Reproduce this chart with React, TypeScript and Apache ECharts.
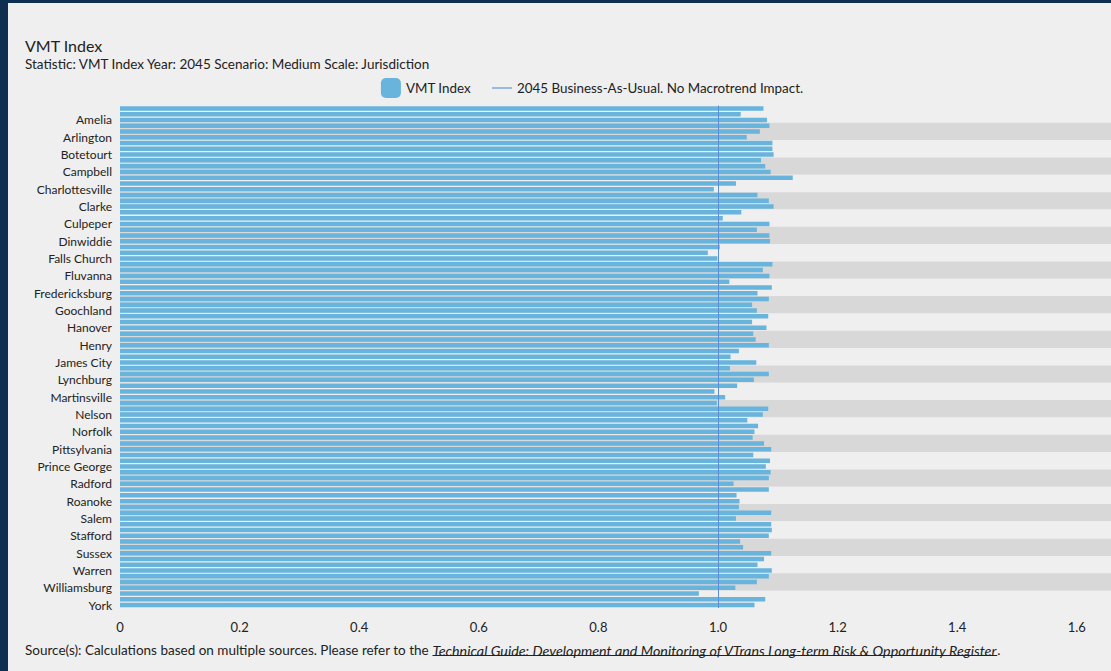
import React, { useEffect, useRef } from "react";
import * as echarts from "echarts";

const categories: string[] = [
  "Albemarle", "Alexandria", "Amelia", "Amherst", "Appomattox", "Arlington", "Augusta", "Bedford", "Botetourt", "Bristol",
  "Buckingham", "Campbell", "Caroline", "Charles City", "Charlottesville", "Chesapeake", "Chesterfield", "Clarke", "Colonial Heights", "Covington",
  "Culpeper", "Cumberland", "Danville", "Dinwiddie", "Fairfax", "Fairfax City", "Falls Church", "Fauquier", "Floyd", "Fluvanna",
  "Franklin", "Frederick", "Fredericksburg", "Giles", "Gloucester", "Goochland", "Greene", "Hampton", "Hanover", "Harrisonburg",
  "Henrico", "Henry", "Hopewell", "Isle of Wight", "James City", "Loudoun", "Louisa", "Lynchburg", "Manassas", "Manassas Park",
  "Martinsville", "Mecklenburg", "Montgomery", "Nelson", "New Kent", "Newport News", "Norfolk", "Orange", "Petersburg", "Pittsylvania",
  "Portsmouth", "Powhatan", "Prince George", "Prince William", "Pulaski", "Radford", "Rappahannock", "Richmond", "Roanoke", "Rockbridge",
  "Rockingham", "Salem", "Shenandoah", "Spotsylvania", "Stafford", "Staunton", "Suffolk", "Sussex", "Tazewell", "Virginia Beach",
  "Warren", "Waynesboro", "Westmoreland", "Williamsburg", "Winchester", "Wythe", "York",
];

const vmtIndex: number[] = [
  1.076, 1.038, 1.082, 1.086, 1.070, 1.048, 1.091, 1.091, 1.093, 1.072,
  1.079, 1.088, 1.125, 1.030, 0.993, 1.066, 1.085, 1.093, 1.039, 1.008,
  1.086, 1.065, 1.086, 1.087, 1.003, 0.983, 0.999, 1.091, 1.075, 1.086,
  1.019, 1.090, 1.066, 1.085, 1.057, 1.065, 1.084, 1.057, 1.081, 1.059,
  1.063, 1.085, 1.035, 1.021, 1.064, 1.020, 1.085, 1.060, 1.032, 0.994,
  1.012, 0.998, 1.084, 1.075, 1.049, 1.067, 1.061, 1.058, 1.077, 1.089,
  1.059, 1.087, 1.080, 1.088, 1.085, 1.026, 1.085, 1.031, 1.036, 1.035,
  1.089, 1.030, 1.089, 1.090, 1.085, 1.037, 1.042, 1.089, 1.077, 1.066,
  1.090, 1.085, 1.065, 1.029, 0.968, 1.079, 1.061,
];

const baselineValue = 1.0;
const seriesNames = ["VMT Index", "2045 Business-As-Usual. No Macrotrend Impact."];
const titleText = "VMT Index";
const subtitleText = "Statistic: VMT Index Year: 2045 Scenario: Medium Scale: Jurisdiction";
const sourcePlain = "Source(s): Calculations based on multiple sources. Please refer to the ";
const sourceLink = "Technical Guide: Development and Monitoring of VTrans Long-term Risk & Opportunity Register";
const sourceEnd = ".";

const FONT_FAMILY = 'Lato, "Noto Sans", sans-serif';
const BG = "#efefef";
const BAND = "#d8d8d8";
const BAR = "#69b4dc";
const LINE = "#5a8fd8";
const LEGEND_LINE = "#9ab9e4";
const TEXT = "#222222";

function measure(text: string, font: string): number {
  const c = document.createElement("canvas");
  const ctx = c.getContext("2d");
  if (!ctx) return text.length * 6;
  ctx.font = font;
  return ctx.measureText(text).width;
}

export default function App() {
  const ref = useRef<HTMLDivElement>(null);

  useEffect(() => {
    if (!ref.current) return;
    const chart = echarts.init(ref.current, undefined, { renderer: "svg" });
    const fontPlain = `13.5px ${FONT_FAMILY}`;
    const fontItalic = `italic 14.3px ${FONT_FAMILY}`;
    const w1 = measure(sourcePlain, fontPlain);
    const w2 = measure(sourceLink, fontItalic);
    const sx = 17;
    const sy = 647;

    chart.setOption({
      animation: false,
      backgroundColor: BG,
      textStyle: { fontFamily: FONT_FAMILY },
      legend: {
        top: 70,
        left: "center",
        itemWidth: 20,
        itemHeight: 20,
        itemGap: 20,
        textStyle: { fontSize: 13.4, color: TEXT, fontFamily: FONT_FAMILY },
        data: [
          { name: seriesNames[0], icon: "roundRect" },
          { name: seriesNames[1], itemStyle: { opacity: 0, color: "rgba(0,0,0,0)", borderWidth: 0 } },
        ],
      },
      grid: { left: 112, top: 102.5, bottom: 63, right: 39.4, containLabel: false },
      xAxis: {
        type: "value",
        min: 0,
        max: 1.7,
        interval: 0.2,
        axisLine: { show: false },
        axisTick: { show: false },
        splitLine: { show: false },
        axisLabel: {
          fontSize: 13,
          color: TEXT,
          margin: 12,
          showMaxLabel: false,
          fontFamily: FONT_FAMILY,
          formatter: (v: number) => (v === 0 ? "0" : v.toFixed(1)),
        },
      },
      yAxis: {
        type: "category",
        inverse: true,
        data: categories,
        axisLine: { show: false },
        axisTick: { show: false },
        axisLabel: {
          fontSize: 12,
          color: TEXT,
          margin: 8,
          fontFamily: FONT_FAMILY,
          interval: (index: number) => index % 3 === 2,
        },
        splitLine: { show: false },
        splitArea: {
          show: true,
          interval: (index: number) => index % 3 === 0,
          areaStyle: { color: [BG, BAND] },
        },
      },
      series: [
        {
          name: seriesNames[0],
          type: "bar",
          data: vmtIndex,
          barCategoryGap: "22%",
          itemStyle: { color: BAR },
          markLine: {
            silent: true,
            symbol: ["none", "none"],
            label: { show: false },
            lineStyle: { color: LINE, width: 1, type: "solid" },
            data: [{ xAxis: baselineValue }],
          },
        },
        {
          name: seriesNames[1],
          type: "line",
          data: [],
          symbol: "none",
          itemStyle: { color: LEGEND_LINE },
          lineStyle: { color: LEGEND_LINE, width: 1 },
        },
      ],
      graphic: [
        {
          type: "text",
          x: 17,
          y: 42,
          style: { text: titleText, font: `16px ${FONT_FAMILY}`, fill: TEXT, verticalAlign: "middle" },
        },
        {
          type: "text",
          x: 17,
          y: 61,
          style: { text: subtitleText, font: fontPlain, fill: TEXT, verticalAlign: "middle" },
        },
        {
          type: "text",
          x: sx,
          y: sy,
          style: { text: sourcePlain, font: fontPlain, fill: TEXT, verticalAlign: "middle" },
        },
        {
          type: "text",
          x: sx + w1,
          y: sy,
          style: { text: sourceLink, font: fontItalic, fill: TEXT, verticalAlign: "middle" },
        },
        {
          type: "line",
          shape: { x1: sx + w1, y1: sy + 5.5, x2: sx + w1 + w2, y2: sy + 5.5 },
          style: { stroke: TEXT, lineWidth: 1 },
        },
        {
          type: "text",
          x: sx + w1 + w2,
          y: sy,
          style: { text: sourceEnd, font: fontPlain, fill: TEXT, verticalAlign: "middle" },
        },
      ],
    });
    return () => chart.dispose();
  }, []);

  return (
    <div
      style={{
        position: "fixed",
        left: 0,
        top: 0,
        width: "100vw",
        height: "100vh",
        overflow: "hidden",
        background: "#0e2f50",
      }}
    >
      <div
        ref={ref}
        style={{ position: "absolute", left: 8, top: 3, width: 1168, height: 668, background: BG }}
      />
    </div>
  );
}
